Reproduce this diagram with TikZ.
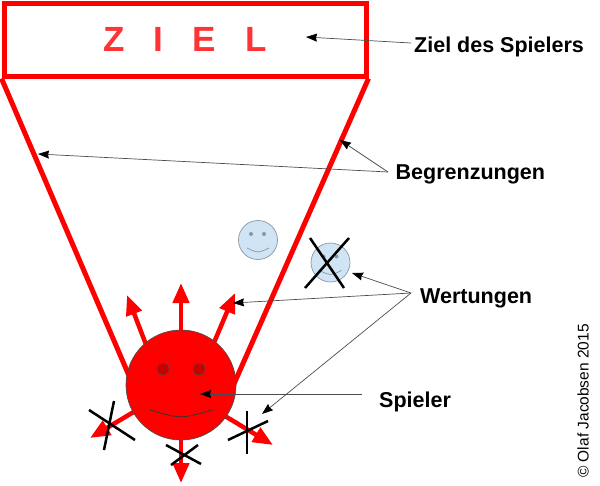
\documentclass[tikz,border=0pt]{standalone}
\usepackage{fontspec}
\setmainfont{Liberation Sans}
\usetikzlibrary{arrows.meta}
\definecolor{zielred}{RGB}{255,51,51}
\definecolor{smblue}{RGB}{207,228,244}
\definecolor{smgray}{RGB}{140,150,160}
\definecolor{eyered}{RGB}{200,0,0}
\begin{document}
\begin{tikzpicture}[x=1pt,y=-1pt,
  redline/.style={draw=red, line width=5pt},
  redarrow/.style={draw=red, line width=4.5pt, -{Triangle[length=20pt,width=16pt]}},
  crossline/.style={draw=black, line width=2.5pt},
  pointer/.style={draw=black!70, line width=0.7pt, -{Stealth[length=11pt,width=8pt,inset=1pt,color=black,fill=black]}},
  lbl/.style={font=\fontsize{21.5}{25}\selectfont\bfseries, anchor=base west, inner sep=0pt},
  bluesm/.style={circle, draw=smgray, fill=smblue, line width=0.7pt, minimum size=39pt, inner sep=0pt},
  blueeye/.style={circle, fill=smgray, minimum size=4pt, inner sep=0pt},
  redeye/.style={circle, draw=black!70, fill=eyered, line width=0.5pt, minimum size=12pt, inner sep=0pt},
]
\useasboundingbox (0,0) rectangle (600,485);

% goal box
\node[draw=red, line width=5pt, minimum width=362pt, minimum height=73pt, inner sep=0pt,
      text=zielred, font=\fontsize{35}{40}\selectfont\bfseries] (ziel) at (185,39.5)
      {Z\hspace{29pt}I\hspace{29pt}E\hspace{29pt}L};

% boundaries
\coordinate (lend) at (133,385);
\coordinate (rend) at (233.5,385);
\draw[redline] (ziel.south west) -- (lend);
\draw[redline] (ziel.south east) -- (rend);

% red arrows
\coordinate (a1s) at (150,355); \coordinate (a1e) at (127,295);
\coordinate (a2s) at (181,345); \coordinate (a2e) at (181,283);
\coordinate (a3s) at (210,352); \coordinate (a3e) at (235,293);
\coordinate (b1s) at (142,407); \coordinate (b1e) at (90,438);
\coordinate (b2s) at (181,430); \coordinate (b2e) at (181,483);
\coordinate (b3s) at (220,413); \coordinate (b3e) at (273,445);
\draw[redarrow] (a1s) -- (a1e);
\draw[redarrow] (a2s) -- (a2e);
\draw[redarrow] (a3s) -- (a3e);
\draw[redarrow] (b1s) -- (b1e);
\draw[redarrow] (b2s) -- (b2e);
\draw[redarrow] (b3s) -- (b3e);

% player
\node[circle, draw=black!70, fill=red, line width=0.7pt, minimum size=110pt, inner sep=0pt] (player) at (181,385) {};
\node[redeye] (eyel) at (163,369) {};
\node[redeye] (eyer) at (199,369) {};
\draw[black!80, line width=0.8pt] (150,410) .. controls (181,419) .. (212,410);

% crosses on lower arrows
\draw[crossline] (89,410) -- (135,440);
\draw[crossline] (114,401) -- (104,450);
\draw[crossline] (166,445) -- (201,464);
\draw[crossline] (198,445) -- (171,465);
\draw[crossline] (247,411) -- (247,454);
\draw[crossline] (228,440) -- (268,421);

% blue smileys
\node[bluesm] (s1) at (258,240) {};
\node[blueeye] at (251,234) {};
\node[blueeye] at (264,234) {};
\draw[smgray, line width=0.7pt] (247,248) .. controls (258,253.3) .. (269,248);
\node[bluesm] (s2) at (330.5,262.5) {};
\node[blueeye] at (323.5,256.5) {};
\node[blueeye] at (336.5,256.5) {};
\draw[smgray, line width=0.7pt] (319.5,270.5) .. controls (330.5,275.8) .. (341.5,270.5);
\draw[crossline] (310,238) -- (344,288);
\draw[crossline] (349,238) -- (305,288);

% labels
\node[lbl] (lziel) at (414,52) {Ziel des Spielers};
\node[lbl] (lbeg) at (395.5,179) {Begrenzungen};
\node[lbl] (lwert) at (420,303) {Wertungen};
\node[lbl] (lspiel) at (379,407) {Spieler};
\node[rotate=90, inner sep=0pt, font=\fontsize{15.5}{17}\selectfont] (copy) at (583,401) {© Olaf Jacobsen 2015};

% pointers
\coordinate (pz) at (411,43);   \coordinate (tz) at (306,37);
\coordinate (pb) at (388,172);  \coordinate (tb1) at (340,140); \coordinate (tb2) at (38,154);
\coordinate (pw) at (411,293);  \coordinate (tw1) at (352,273); \coordinate (tw2) at (233,303); \coordinate (tw3) at (262,414);
\coordinate (ps) at (362,394);  \coordinate (ts) at (200,394);
\draw[pointer] (pz) -- (tz);
\draw[pointer] (pb) -- (tb1);
\draw[pointer] (pb) -- (tb2);
\draw[pointer] (pw) -- (tw1);
\draw[pointer] (pw) -- (tw2);
\draw[pointer] (pw) -- (tw3);
\draw[pointer] (ps) -- (ts);
\end{tikzpicture}
\end{document}
